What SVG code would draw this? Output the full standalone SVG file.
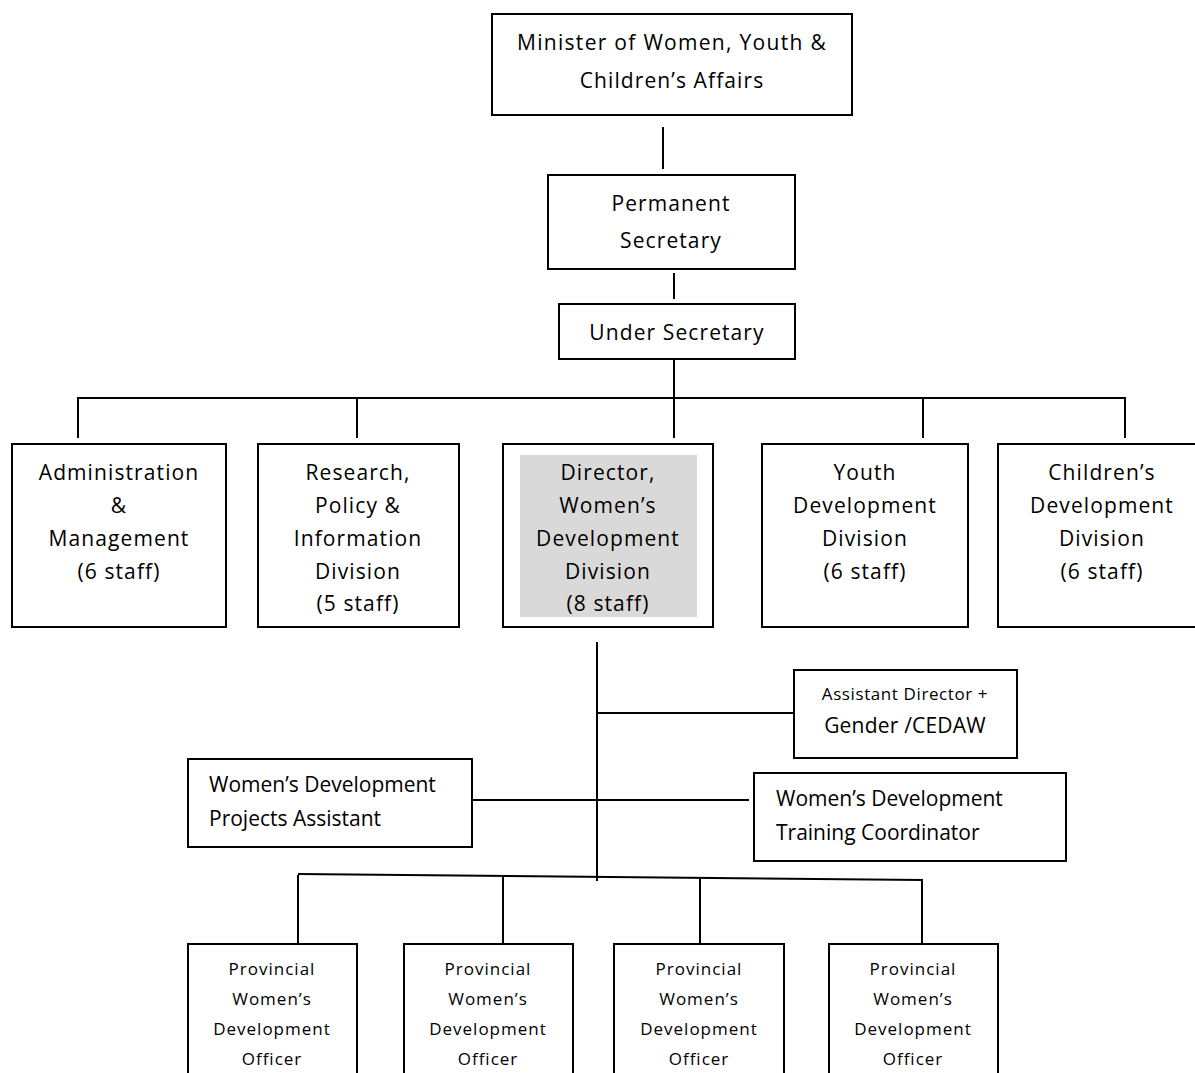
<svg xmlns="http://www.w3.org/2000/svg" width="1195" height="1073" viewBox="0 0 1195 1073">
<style>
.box{fill:#fff;stroke:#000;stroke-width:2}
.ln{stroke:#000;stroke-width:2;fill:none}
text{font-family:"Open Sans","Noto Sans",sans-serif;fill:#000}
.t{font-size:21px;text-anchor:middle;letter-spacing:1.1px}
.l{font-size:21px}
.s{font-size:17px;text-anchor:middle;letter-spacing:0.6px}
.p{font-size:17px;text-anchor:middle;letter-spacing:1px}
</style>
<rect width="1195" height="1073" fill="#fff"/>
<g id="connectors">
<line class="ln" x1="663" y1="127" x2="663" y2="169"/>
<line class="ln" x1="674" y1="273" x2="674" y2="299"/>
<line class="ln" x1="674" y1="359" x2="674" y2="398"/>
<line class="ln" x1="77" y1="398" x2="1126" y2="398"/>
<line class="ln" x1="78" y1="398" x2="78" y2="438"/>
<line class="ln" x1="357" y1="398" x2="357" y2="438"/>
<line class="ln" x1="674" y1="398" x2="674" y2="438"/>
<line class="ln" x1="923" y1="398" x2="923" y2="438"/>
<line class="ln" x1="1125" y1="398" x2="1125" y2="438"/>
<line class="ln" x1="597" y1="642" x2="597" y2="881"/>
<line class="ln" x1="597" y1="713" x2="794" y2="713"/>
<line class="ln" x1="472" y1="800" x2="749" y2="800"/>
<line class="ln" x1="298" y1="874" x2="923" y2="880"/>
<line class="ln" x1="298" y1="875" x2="298" y2="944"/>
<line class="ln" x1="503" y1="877" x2="503" y2="944"/>
<line class="ln" x1="700" y1="879" x2="700" y2="944"/>
<line class="ln" x1="922" y1="880" x2="922" y2="944"/>
</g>
<g id="minister">
<rect class="box" x="492" y="14" width="360" height="101"/>
<text class="t" x="672" y="50" style="letter-spacing:1.3px">Minister of Women, Youth &amp;</text>
<text class="t" x="672" y="88">Children’s Affairs</text>
</g>
<g id="permanent-secretary">
<rect class="box" x="548" y="175" width="247" height="94"/>
<text class="t" x="671" y="211">Permanent</text>
<text class="t" x="671" y="248">Secretary</text>
</g>
<g id="under-secretary">
<rect class="box" x="559" y="304" width="236" height="55"/>
<text class="t" x="677" y="340">Under Secretary</text>
</g>
<g id="admin">
<rect class="box" x="12" y="444" width="214" height="183"/>
<text class="t" x="119" y="480">Administration</text>
<text class="t" x="119" y="513">&amp;</text>
<text class="t" x="119" y="546">Management</text>
<text class="t" x="119" y="579">(6 staff)</text>
</g>
<g id="research">
<rect class="box" x="258" y="444" width="201" height="183"/>
<text class="t" x="358" y="480">Research,</text>
<text class="t" x="358" y="513">Policy &amp;</text>
<text class="t" x="358" y="546">Information</text>
<text class="t" x="358" y="579">Division</text>
<text class="t" x="358" y="611">(5 staff)</text>
</g>
<g id="director">
<rect class="box" x="503" y="444" width="210" height="183"/>
<rect x="520" y="455" width="177" height="162" fill="#d9d9d9"/>
<text class="t" x="608" y="480">Director,</text>
<text class="t" x="608" y="513">Women’s</text>
<text class="t" x="608" y="546">Development</text>
<text class="t" x="608" y="579">Division</text>
<text class="t" x="608" y="611">(8 staff)</text>
</g>
<g id="youth">
<rect class="box" x="762" y="444" width="206" height="183"/>
<text class="t" x="865" y="480">Youth</text>
<text class="t" x="865" y="513">Development</text>
<text class="t" x="865" y="546">Division</text>
<text class="t" x="865" y="579">(6 staff)</text>
</g>
<g id="children">
<rect class="box" x="998" y="444" width="200" height="183"/>
<text class="t" x="1102" y="480">Children’s</text>
<text class="t" x="1102" y="513">Development</text>
<text class="t" x="1102" y="546">Division</text>
<text class="t" x="1102" y="579">(6 staff)</text>
</g>
<g id="assistant-director">
<rect class="box" x="794" y="670" width="223" height="88"/>
<text class="s" x="905" y="700">Assistant Director +</text>
<text class="t" x="905" y="733" style="letter-spacing:0.2px">Gender /CEDAW</text>
</g>
<g id="projects-assistant">
<rect class="box" x="188" y="759" width="284" height="88"/>
<text class="l" x="209" y="792">Women’s Development</text>
<text class="l" x="209" y="826">Projects Assistant</text>
</g>
<g id="training-coordinator">
<rect class="box" x="754" y="773" width="312" height="88"/>
<text class="l" x="776" y="806">Women’s Development</text>
<text class="l" x="776" y="840">Training Coordinator</text>
</g>
<g id="provincial-1">
<rect class="box" x="188" y="944" width="169" height="140"/>
<text class="p" x="272" y="975">Provincial</text>
<text class="p" x="272" y="1005">Women’s</text>
<text class="p" x="272" y="1035">Development</text>
<text class="p" x="272" y="1065">Officer</text>
</g>
<g id="provincial-2">
<rect class="box" x="404" y="944" width="169" height="140"/>
<text class="p" x="488" y="975">Provincial</text>
<text class="p" x="488" y="1005">Women’s</text>
<text class="p" x="488" y="1035">Development</text>
<text class="p" x="488" y="1065">Officer</text>
</g>
<g id="provincial-3">
<rect class="box" x="614" y="944" width="170" height="140"/>
<text class="p" x="699" y="975">Provincial</text>
<text class="p" x="699" y="1005">Women’s</text>
<text class="p" x="699" y="1035">Development</text>
<text class="p" x="699" y="1065">Officer</text>
</g>
<g id="provincial-4">
<rect class="box" x="829" y="944" width="169" height="140"/>
<text class="p" x="913" y="975">Provincial</text>
<text class="p" x="913" y="1005">Women’s</text>
<text class="p" x="913" y="1035">Development</text>
<text class="p" x="913" y="1065">Officer</text>
</g>
</svg>
